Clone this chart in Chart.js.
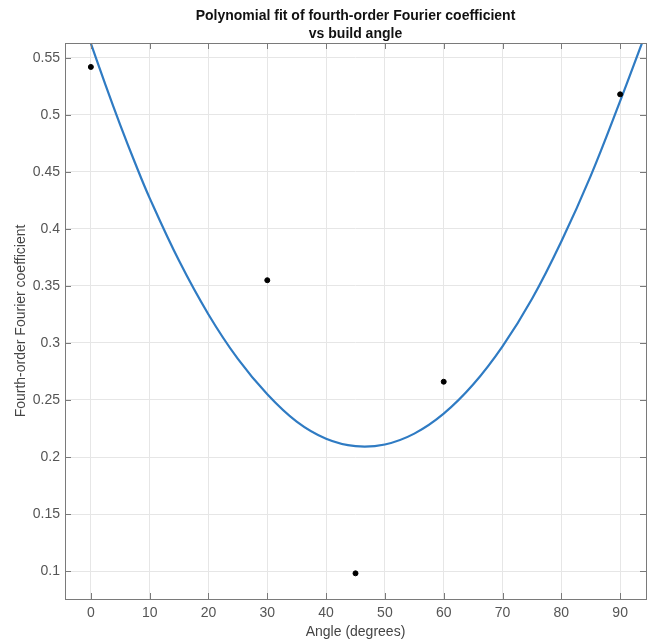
<!DOCTYPE html>
<html>
<head>
<meta charset="utf-8">
<script src="https://cdn.jsdelivr.net/npm/chart.js@4.4.1/dist/chart.umd.min.js"></script>
<style>
  html, body { margin: 0; padding: 0; background: #fff; }
  #wrap { width: 653px; height: 643px; }
</style>
</head>
<body>
<div id="wrap"><canvas id="mycanvas"></canvas></div>
<script>
// measured points
var angles = [0, 30, 45, 60, 90];
var coeffs = [0.542, 0.355, 0.098, 0.266, 0.518];

// fitted curve
var fitAngles = [-0.5, 2.5, 5, 7.5, 10, 15, 20, 25, 30, 35, 40, 45, 50, 55, 60, 65, 70, 75, 80, 85, 90, 93.8];
var fitValues = [0.570, 0.526, 0.491, 0.458, 0.427, 0.372, 0.325, 0.286, 0.255, 0.231, 0.216, 0.2095, 0.211, 0.2205, 0.238, 0.2635, 0.297, 0.3385, 0.389, 0.4465, 0.512, 0.564];

var xTicks = [0, 10, 20, 30, 40, 50, 60, 70, 80, 90];
var xTickLabels = ['0', '10', '20', '30', '40', '50', '60', '70', '80', '90'];
var yTicks = [0.1, 0.15, 0.2, 0.25, 0.3, 0.35, 0.4, 0.45, 0.5, 0.55];
var yTickLabels = ['0.1', '0.15', '0.2', '0.25', '0.3', '0.35', '0.4', '0.45', '0.5', '0.55'];

var points = [];
for (var i in angles) points.push({x: angles[i], y: coeffs[i]});
var curve = [];
for (var j in fitAngles) curve.push({x: fitAngles[j], y: fitValues[j]});

var tickFont = {family: 'Liberation Sans, Arial, sans-serif', size: 14};

// box round the axes plus inward tick marks, matlab style
var boxPlugin = {
	id: 'box',
	afterDatasetsDraw: function(chart) {
		var c = chart.ctx, a = chart.chartArea;
		var xs = chart.scales.x, ys = chart.scales.y;
		var len = 6;
		c.save();
		c.strokeStyle = '#7a7a7a';
		c.lineWidth = 1;
		c.beginPath();
		xTicks.forEach(function(v) {
			var px = Math.round(xs.getPixelForValue(v)) + 0.5;
			c.moveTo(px, a.bottom); c.lineTo(px, a.bottom - len);
			c.moveTo(px, a.top); c.lineTo(px, a.top + len);
		});
		yTicks.forEach(function(v) {
			var py = Math.round(ys.getPixelForValue(v)) + 0.5;
			c.moveTo(a.left, py); c.lineTo(a.left + len, py);
			c.moveTo(a.right, py); c.lineTo(a.right - len, py);
		});
		c.stroke();
		c.strokeRect(Math.round(a.left) + 0.5, Math.round(a.top) + 0.5,
			Math.round(a.right - a.left), Math.round(a.bottom - a.top));
		c.restore();
	}
};

var ctx = document.getElementById('mycanvas');

var chart = new Chart(ctx, {
	type: 'scatter',
	data: {
		datasets: [
			{
				label: 'Data',
				data: points,
				backgroundColor: '#000',
				borderColor: '#000',
				pointRadius: 2.5,
				showLine: false
			},
			{
				label: 'Fit',
				data: curve,
				borderColor: '#2f7bc3',
				borderWidth: 2.2,
				pointRadius: 0,
				showLine: true,
				tension: 0.4
			}
		]
	},
	options: {
		responsive: true,
		maintainAspectRatio: false,
		animation: false,
		layout: {padding: {left: 0, right: 7, top: 0, bottom: 0}},
		plugins: {
			legend: {display: false},
			tooltip: {enabled: false},
			title: {
				display: true,
				fullSize: false,
				text: ['Polynomial fit of fourth-order Fourier coefficient', 'vs build angle'],
				color: '#111',
				font: {family: 'Liberation Sans, Arial, sans-serif', size: 14, weight: 'bold', lineHeight: 18 / 14},
				padding: {top: 7, bottom: 0}
			}
		},
		scales: {
			x: {
				type: 'linear',
				min: -4.4,
				max: 94.4,
				afterBuildTicks: function(axis) {
					axis.ticks = xTicks.map(function(v) { return {value: v}; });
				},
				afterFit: function(axis) { axis.height = 44; },
				grid: {color: '#e6e6e6', drawTicks: false},
				border: {display: false},
				ticks: {
					color: '#555',
					font: tickFont,
					padding: 6,
					maxRotation: 0,
					callback: function(v) { return xTickLabels[xTicks.indexOf(v)]; }
				},
				title: {
					display: true,
					text: 'Angle (degrees)',
					color: '#444',
					font: tickFont,
					padding: {top: 0, bottom: 2}
				}
			},
			y: {
				type: 'linear',
				min: 0.0755,
				max: 0.563,
				afterBuildTicks: function(axis) {
					axis.ticks = yTicks.map(function(v) { return {value: v}; });
				},
				afterFit: function(axis) { axis.width = 65; },
				grid: {color: '#e6e6e6', drawTicks: false},
				border: {display: false},
				ticks: {
					color: '#555',
					font: tickFont,
					padding: 5,
					callback: function(v) {
						var k = yTicks.findIndex(function(t) { return Math.abs(t - v) < 1e-9; });
						return yTickLabels[k];
					}
				},
				title: {
					display: true,
					text: 'Fourth-order Fourier coefficient',
					color: '#444',
					font: tickFont,
					padding: {top: 13, bottom: 0}
				}
			}
		}
	},
	plugins: [boxPlugin]
});
</script>
</body>
</html>
